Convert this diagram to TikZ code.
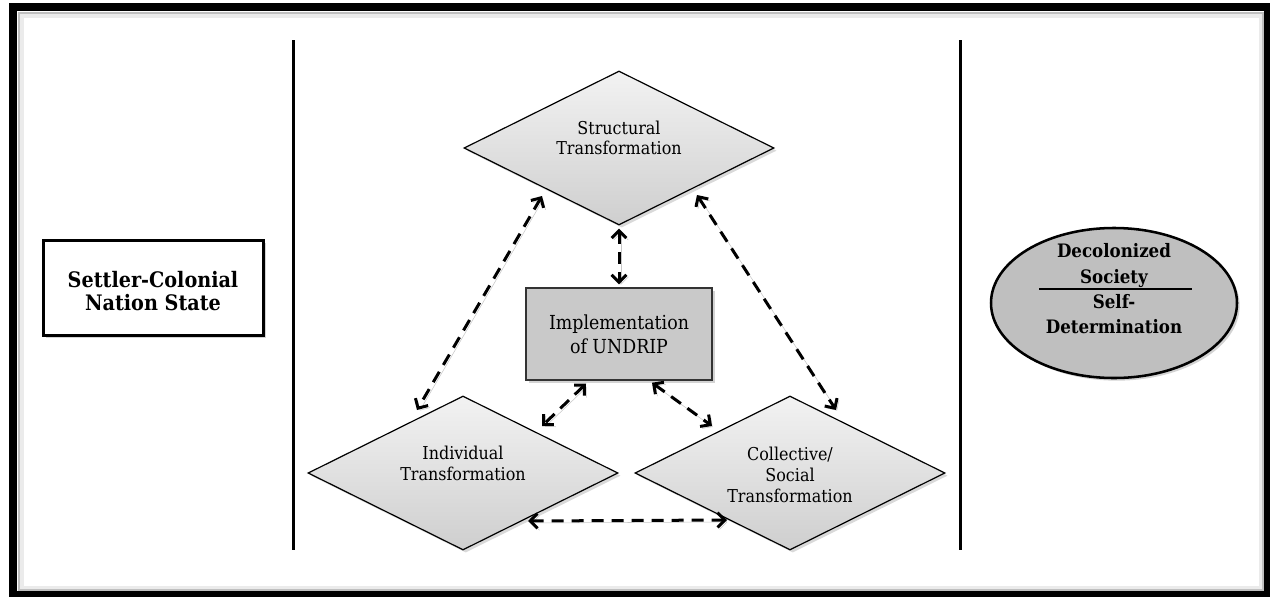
\documentclass[tikz,border=0pt]{standalone}
\usepackage{fontspec}
\setmainfont{DejaVu Serif Condensed}
\usetikzlibrary{shapes.geometric,arrows.meta,shadows,calc}
\begin{document}
\begin{tikzpicture}[x=0.75pt,y=-0.75pt,
  dia/.style={diamond, draw=black, line width=0.9pt, minimum width=232.5pt, minimum height=115.5pt,
    inner sep=0pt, top color=black!5, bottom color=black!19,
    drop shadow={shadow xshift=2pt, shadow yshift=-2pt, opacity=0.3}},
  diatext/.style={font=\fontsize{13.3}{15.75}\selectfont, align=center, text=black, inner sep=0pt},
  arr/.style={{Straight Barb[length=5.5pt,width=11pt]}-{Straight Barb[length=5.5pt,width=11pt]},
    line width=2.25pt, dash pattern=on 9pt off 6pt,
    preaction={draw=black!22, transform canvas={xshift=1.5pt,yshift=-1.5pt}}},
  vline/.style={line width=2.25pt}
]
\useasboundingbox (0,0) rectangle (1270,596);
% outer frame
\draw[black!8, line width=3pt] (22,16) rectangle (1261,588);
\draw[black!25, line width=1.5pt] (18.5,12.5) rectangle (1262.5,589.5);
\draw[line width=6pt] (13,7) rectangle (1268,595);
% vertical separators
\draw[vline] (293,40) -- (293,550);
\draw[vline] (960,40) -- (960,550);

% left box
\node[draw, line width=2.25pt, fill=white, minimum width=165pt, minimum height=71.25pt,
  drop shadow={shadow xshift=2pt, shadow yshift=-2pt, opacity=0.35}]
  (SC) at (153,288) {};
\node[font=\bfseries\fontsize{16}{17.6}\selectfont, align=center, inner sep=0pt]
  (SCt) at ($(SC.center)+(0,3)$) {Settler-Colonial\\Nation State};

% diamonds
\node[dia] (S) at (619,148) {};
\node[dia] (I) at (463,473) {};
\node[dia] (C) at (790,473) {};
\node[diatext, font=\fontsize{13.3}{15}\selectfont] (St) at ($(S.center)+(0,-10)$) {Structural\\Transformation};
\node[diatext] (It) at ($(I.center)+(0,-10)$) {Individual\\Transformation};
\node[diatext] (Ct) at ($(C.center)+(0,2)$) {Collective/\\Social\\Transformation};

% implementation box
\node[draw=black!80, line width=1.1pt, fill=black!21, minimum width=139.5pt, minimum height=69pt,
  font=\fontsize{14.5}{18}\selectfont, align=center,
  drop shadow={shadow xshift=2pt, shadow yshift=-2pt, opacity=0.35}]
  (M) at (619,334) {Implementation\\of UNDRIP};

% ellipse
\node[ellipse, draw, line width=1.9pt, fill=black!25, minimum width=184.5pt, minimum height=112.5pt,
  drop shadow={shadow xshift=2pt, shadow yshift=-2pt, opacity=0.35}]
  (D) at (1114,303) {};
\node[font=\bfseries\fontsize{13.9}{19.5}\selectfont, align=center] (Dt) at ($(D.center)+(0,-37)$) {Decolonized\\Society};
\node[font=\bfseries\fontsize{13.9}{18.8}\selectfont, align=center] (Db) at ($(D.center)+(0,11)$) {Self-\\Determination};
\draw[line width=1.5pt] ($(D.center)+(-75,-14)$) -- ($(D.center)+(78,-14)$);

% arrows
\draw[arr] ($(S.center)+(-77,48)$) -- ($(I.center)+(-46,-63)$);
\draw[arr] ($(S.center)+(78,47)$) -- ($(C.center)+(46,-63)$);
\draw[arr] ($(S.south)+(0,3)$) -- ($(M.north)+(0,-3)$);
\draw[arr] ($(M.south)+(-33,3)$) -- ($(I.center)+(79,-47)$);
\draw[arr] ($(M.south)+(33,2)$) -- ($(C.center)+(-78,-47)$);
\draw[arr] ($(I.center)+(65,48)$) -- ($(C.center)+(-63,47)$);
\end{tikzpicture}
\end{document}
